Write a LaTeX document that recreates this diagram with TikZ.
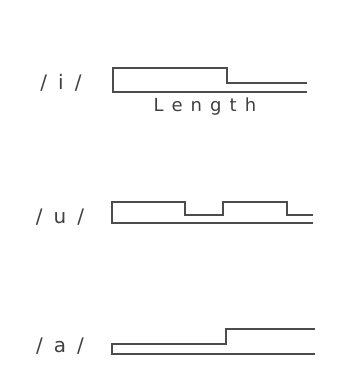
\documentclass[tikz,border=0pt]{standalone}
\usepackage{fontspec}
\setmainfont{DejaVu Sans}
\newfontfamily\lenfont[LetterSpace=45]{DejaVu Sans}
\usepackage{tikz}

\begin{document}
\begin{tikzpicture}[x=1pt,y=-1pt,
  wave/.style={line width=1.8pt, black!70, line join=miter},
  vowel/.style={font=\fontsize{20}{20}\selectfont, text=black!75, anchor=base},
  axislabel/.style={font=\lenfont\fontsize{18}{18}\selectfont, text=black!75, anchor=base}]
\useasboundingbox (0,0) rectangle (341,365);
% /i/ : long high part, then low
\node[vowel] (vi) at (61,89) {/\hspace{11pt}i\hspace{11pt}/};
\draw[wave] (307,83) -- (227,83) -- (227,68) -- (113,68) -- (113,92) -- (307,92);
\node[axislabel] (len) at (205,111) {Length};
% /u/ : two high parts
\node[vowel] (vu) at (60,223) {/\hspace{11pt}u\hspace{11pt}/};
\draw[wave] (313,215) -- (287,215) -- (287,202) -- (223,202) -- (223,215)
  -- (185,215) -- (185,202) -- (112,202) -- (112,223) -- (313,223);
% /a/ : low first, then high
\node[vowel] (va) at (60,352) {/\hspace{11pt}a\hspace{11pt}/};
\draw[wave] (315,329) -- (226,329) -- (226,344) -- (112,344) -- (112,354) -- (315,354);
\end{tikzpicture}
\end{document}
